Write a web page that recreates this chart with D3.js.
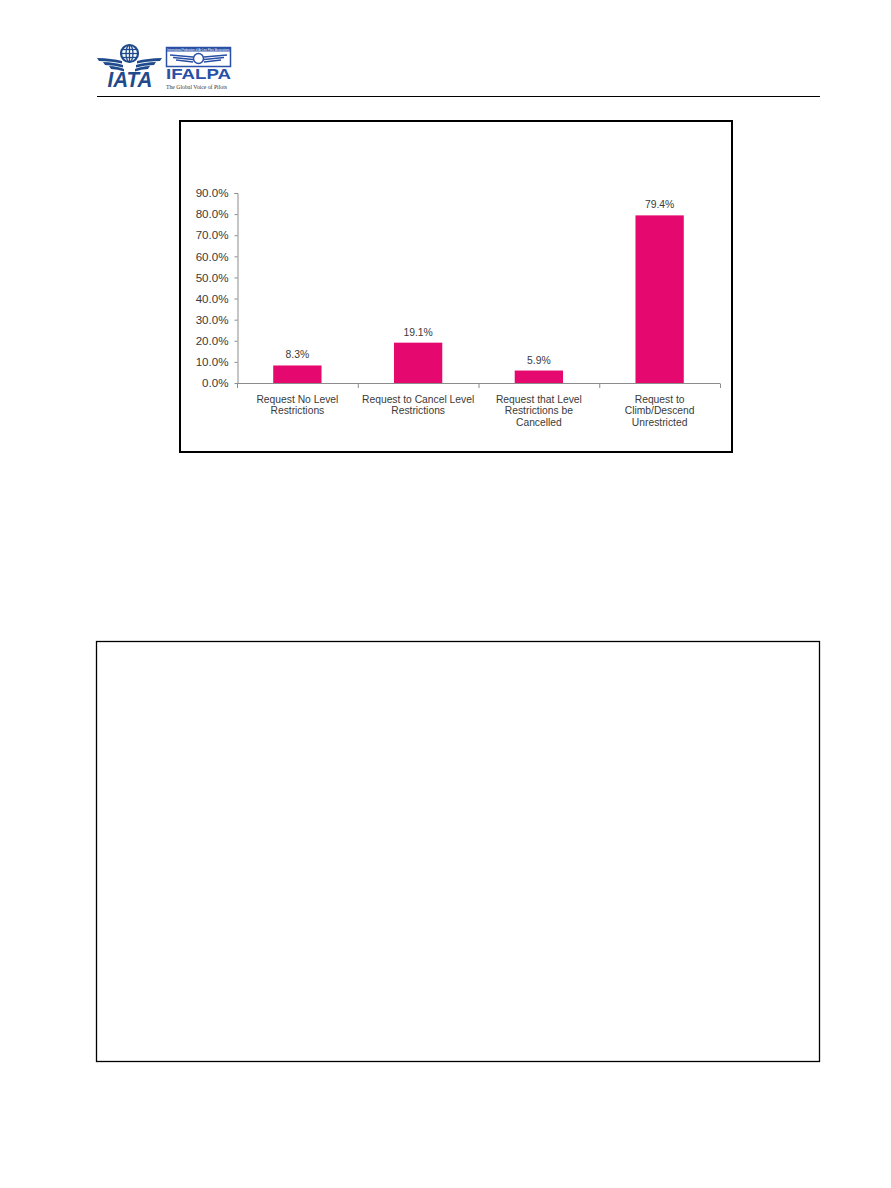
<!DOCTYPE html>
<html>
<head>
<meta charset="utf-8">
<script src="https://cdn.jsdelivr.net/npm/d3@7"></script>
<style>
  html, body { margin: 0; padding: 0; background: #fff; }
  svg { display: block; }
</style>
</head>
<body>
<svg id="page" width="891" height="1188"></svg>
<script>
// ---- data ----
const categories = [
  ["Request No Level", "Restrictions"],
  ["Request to Cancel Level", "Restrictions"],
  ["Request that Level", "Restrictions be", "Cancelled"],
  ["Request to", "Climb/Descend", "Unrestricted"]
];
const values = [8.3, 19.1, 5.9, 79.4];
const yTicks = [0, 10, 20, 30, 40, 50, 60, 70, 80, 90];

const svg = d3.select("#page");
const FONT = "'Liberation Sans', Arial, Helvetica, sans-serif";
const TEXT = "#3a3a3a";
const BAR = "#E5086E";
const AXIS = "#8c8c8c";

// ---- page header (logos + rule) ----
const blue = "#1f4b8c";
const hdr = svg.append("g");
// IATA globe
const gx = 129.5, gy = 53.5, gr = 8.5;
hdr.append("circle").attr("cx", gx).attr("cy", gy).attr("r", gr)
  .attr("fill", "#fff").attr("stroke", blue).attr("stroke-width", 2.2);
hdr.append("ellipse").attr("cx", gx).attr("cy", gy).attr("rx", 3.5).attr("ry", gr)
  .attr("fill", "none").attr("stroke", blue).attr("stroke-width", 1.3);
hdr.append("line").attr("x1", gx).attr("x2", gx).attr("y1", gy - gr).attr("y2", gy + gr)
  .attr("stroke", blue).attr("stroke-width", 1.3);
[-4, 0, 4].forEach(dy => {
  const hw = Math.sqrt(gr * gr - dy * dy);
  hdr.append("line").attr("x1", gx - hw).attr("x2", gx + hw).attr("y1", gy + dy).attr("y2", gy + dy)
    .attr("stroke", blue).attr("stroke-width", 1.3);
});
// IATA wings
[0, 1, 2].forEach(i => {
  const y0 = 58 + i * 4;
  hdr.append("path")
    .attr("d", `M${97 + i * 6},${y0} Q${112 + i * 3},${y0 + 0.3} ${122 + i},${y0 + 3} L${122 + i},${y0 + 5.5} Q${112 + i * 3},${y0 + 3} ${99 + i * 6},${y0 + 3} Z`)
    .attr("fill", blue);
  hdr.append("path")
    .attr("d", `M${162 - i * 6},${y0} Q${147 - i * 3},${y0 + 0.3} ${137 - i},${y0 + 3} L${137 - i},${y0 + 5.5} Q${147 - i * 3},${y0 + 3} ${160 - i * 6},${y0 + 3} Z`)
    .attr("fill", blue);
});
hdr.append("text").attr("x", 130).attr("y", 87).attr("text-anchor", "middle")
  .attr("font-family", FONT).attr("font-size", 22).attr("font-weight", "bold")
  .attr("font-style", "italic").attr("fill", blue).attr("textLength", 45)
  .attr("lengthAdjust", "spacingAndGlyphs").text("IATA");
// IFALPA logo
const ib = "#2a4fa6";
hdr.append("rect").attr("x", 166.5).attr("y", 47.5).attr("width", 64).attr("height", 19)
  .attr("fill", "#fff").attr("stroke", ib).attr("stroke-width", 1.5);
hdr.append("rect").attr("x", 166.5).attr("y", 47.5).attr("width", 64).attr("height", 4).attr("fill", ib);
hdr.append("text").attr("x", 198.5).attr("y", 50.8).attr("text-anchor", "middle")
  .attr("font-family", FONT).attr("font-size", 2.6).attr("fill", "#fff")
  .text("International Federation of Air Line Pilots' Associations");
[0, 1, 2].forEach(i => {
  hdr.append("line").attr("x1", 170 + i * 3).attr("x2", 193).attr("y1", 55 + i * 2.5).attr("y2", 57 + i * 2.5)
    .attr("stroke", ib).attr("stroke-width", 1.3);
  hdr.append("line").attr("x1", 227 - i * 3).attr("x2", 204).attr("y1", 55 + i * 2.5).attr("y2", 57 + i * 2.5)
    .attr("stroke", ib).attr("stroke-width", 1.3);
});
hdr.append("circle").attr("cx", 198.5).attr("cy", 58.5).attr("r", 5).attr("fill", "#fff")
  .attr("stroke", ib).attr("stroke-width", 1.5);
hdr.append("text").attr("x", 166).attr("y", 79).attr("font-family", FONT)
  .attr("font-size", 15).attr("font-weight", "bold").attr("fill", ib).attr("textLength", 65)
  .attr("lengthAdjust", "spacingAndGlyphs").text("IFALPA");
hdr.append("text").attr("x", 166).attr("y", 88.5).attr("font-family", "'Liberation Serif', serif")
  .attr("font-size", 6.5).attr("fill", "#333").attr("textLength", 61)
  .attr("lengthAdjust", "spacingAndGlyphs").text("The Global Voice of Pilots");
// header rule
hdr.append("line").attr("x1", 97).attr("x2", 820).attr("y1", 96.5).attr("y2", 96.5)
  .attr("stroke", "#000").attr("stroke-width", 1.2);

// ---- chart frame ----
svg.append("rect").attr("x", 180).attr("y", 121).attr("width", 552).attr("height", 331)
  .attr("fill", "#fff").attr("stroke", "#000").attr("stroke-width", 2);

// ---- scales ----
const x = d3.scaleBand().domain(d3.range(categories.length)).range([237, 720])
  .paddingInner(0.6).paddingOuter(0.3);
const y = d3.scaleLinear().domain([0, 90]).range([383, 193]);

// ---- y axis ----
const yAxis = d3.axisLeft(y).tickValues(yTicks).tickFormat(d => d.toFixed(1) + "%")
  .tickSize(3).tickPadding(6);
const yg = svg.append("g").attr("transform", "translate(237.5,0)").call(yAxis);
yg.select(".domain").attr("stroke", AXIS).attr("d", `M-3,${y(90) + 0.5}H0.5V${y(0) + 0.5}`);
yg.selectAll(".tick line").attr("stroke", AXIS);
yg.selectAll(".tick text").attr("font-family", FONT).attr("font-size", 11.6).attr("fill", TEXT);

// ---- x axis (category boundaries) ----
const [x0, x1] = x.range();
const boundaries = d3.range(categories.length + 1).map(i => x0 + i * (x1 - x0) / categories.length);
const xg = svg.append("g");
xg.append("line").attr("x1", x0).attr("x2", x1).attr("y1", y(0) + 0.5).attr("y2", y(0) + 0.5)
  .attr("stroke", AXIS);
xg.selectAll("line.tk").data(boundaries).join("line").attr("class", "tk")
  .attr("x1", d => d + 0.5).attr("x2", d => d + 0.5)
  .attr("y1", y(0) + 0.5).attr("y2", y(0) + 5).attr("stroke", AXIS);

// ---- bars ----
svg.append("g").selectAll("rect").data(values).join("rect")
  .attr("x", (d, i) => x(i)).attr("width", x.bandwidth())
  .attr("y", d => y(d)).attr("height", d => y(0) - y(d))
  .attr("fill", BAR);

// ---- value labels ----
svg.append("g").selectAll("text").data(values).join("text")
  .attr("x", (d, i) => x(i) + x.bandwidth() / 2)
  .attr("y", d => y(d) - 7)
  .attr("text-anchor", "middle")
  .attr("font-family", FONT).attr("font-size", 10.4).attr("fill", TEXT)
  .text(d => d.toFixed(1) + "%");

// ---- category labels ----
const cl = svg.append("g").selectAll("text").data(categories).join("text")
  .attr("text-anchor", "middle")
  .attr("font-family", FONT).attr("font-size", 10.3).attr("fill", TEXT);
cl.each(function (lines, i) {
  const t = d3.select(this);
  lines.forEach((ln, j) => {
    t.append("tspan").attr("x", x(i) + x.bandwidth() / 2).attr("y", 403 + j * 11.3).text(ln);
  });
});

// ---- second (empty) frame ----
svg.append("rect").attr("x", 96.5).attr("y", 641.5).attr("width", 723).attr("height", 420)
  .attr("fill", "none").attr("stroke", "#000").attr("stroke-width", 1.3);
</script>
</body>
</html>
